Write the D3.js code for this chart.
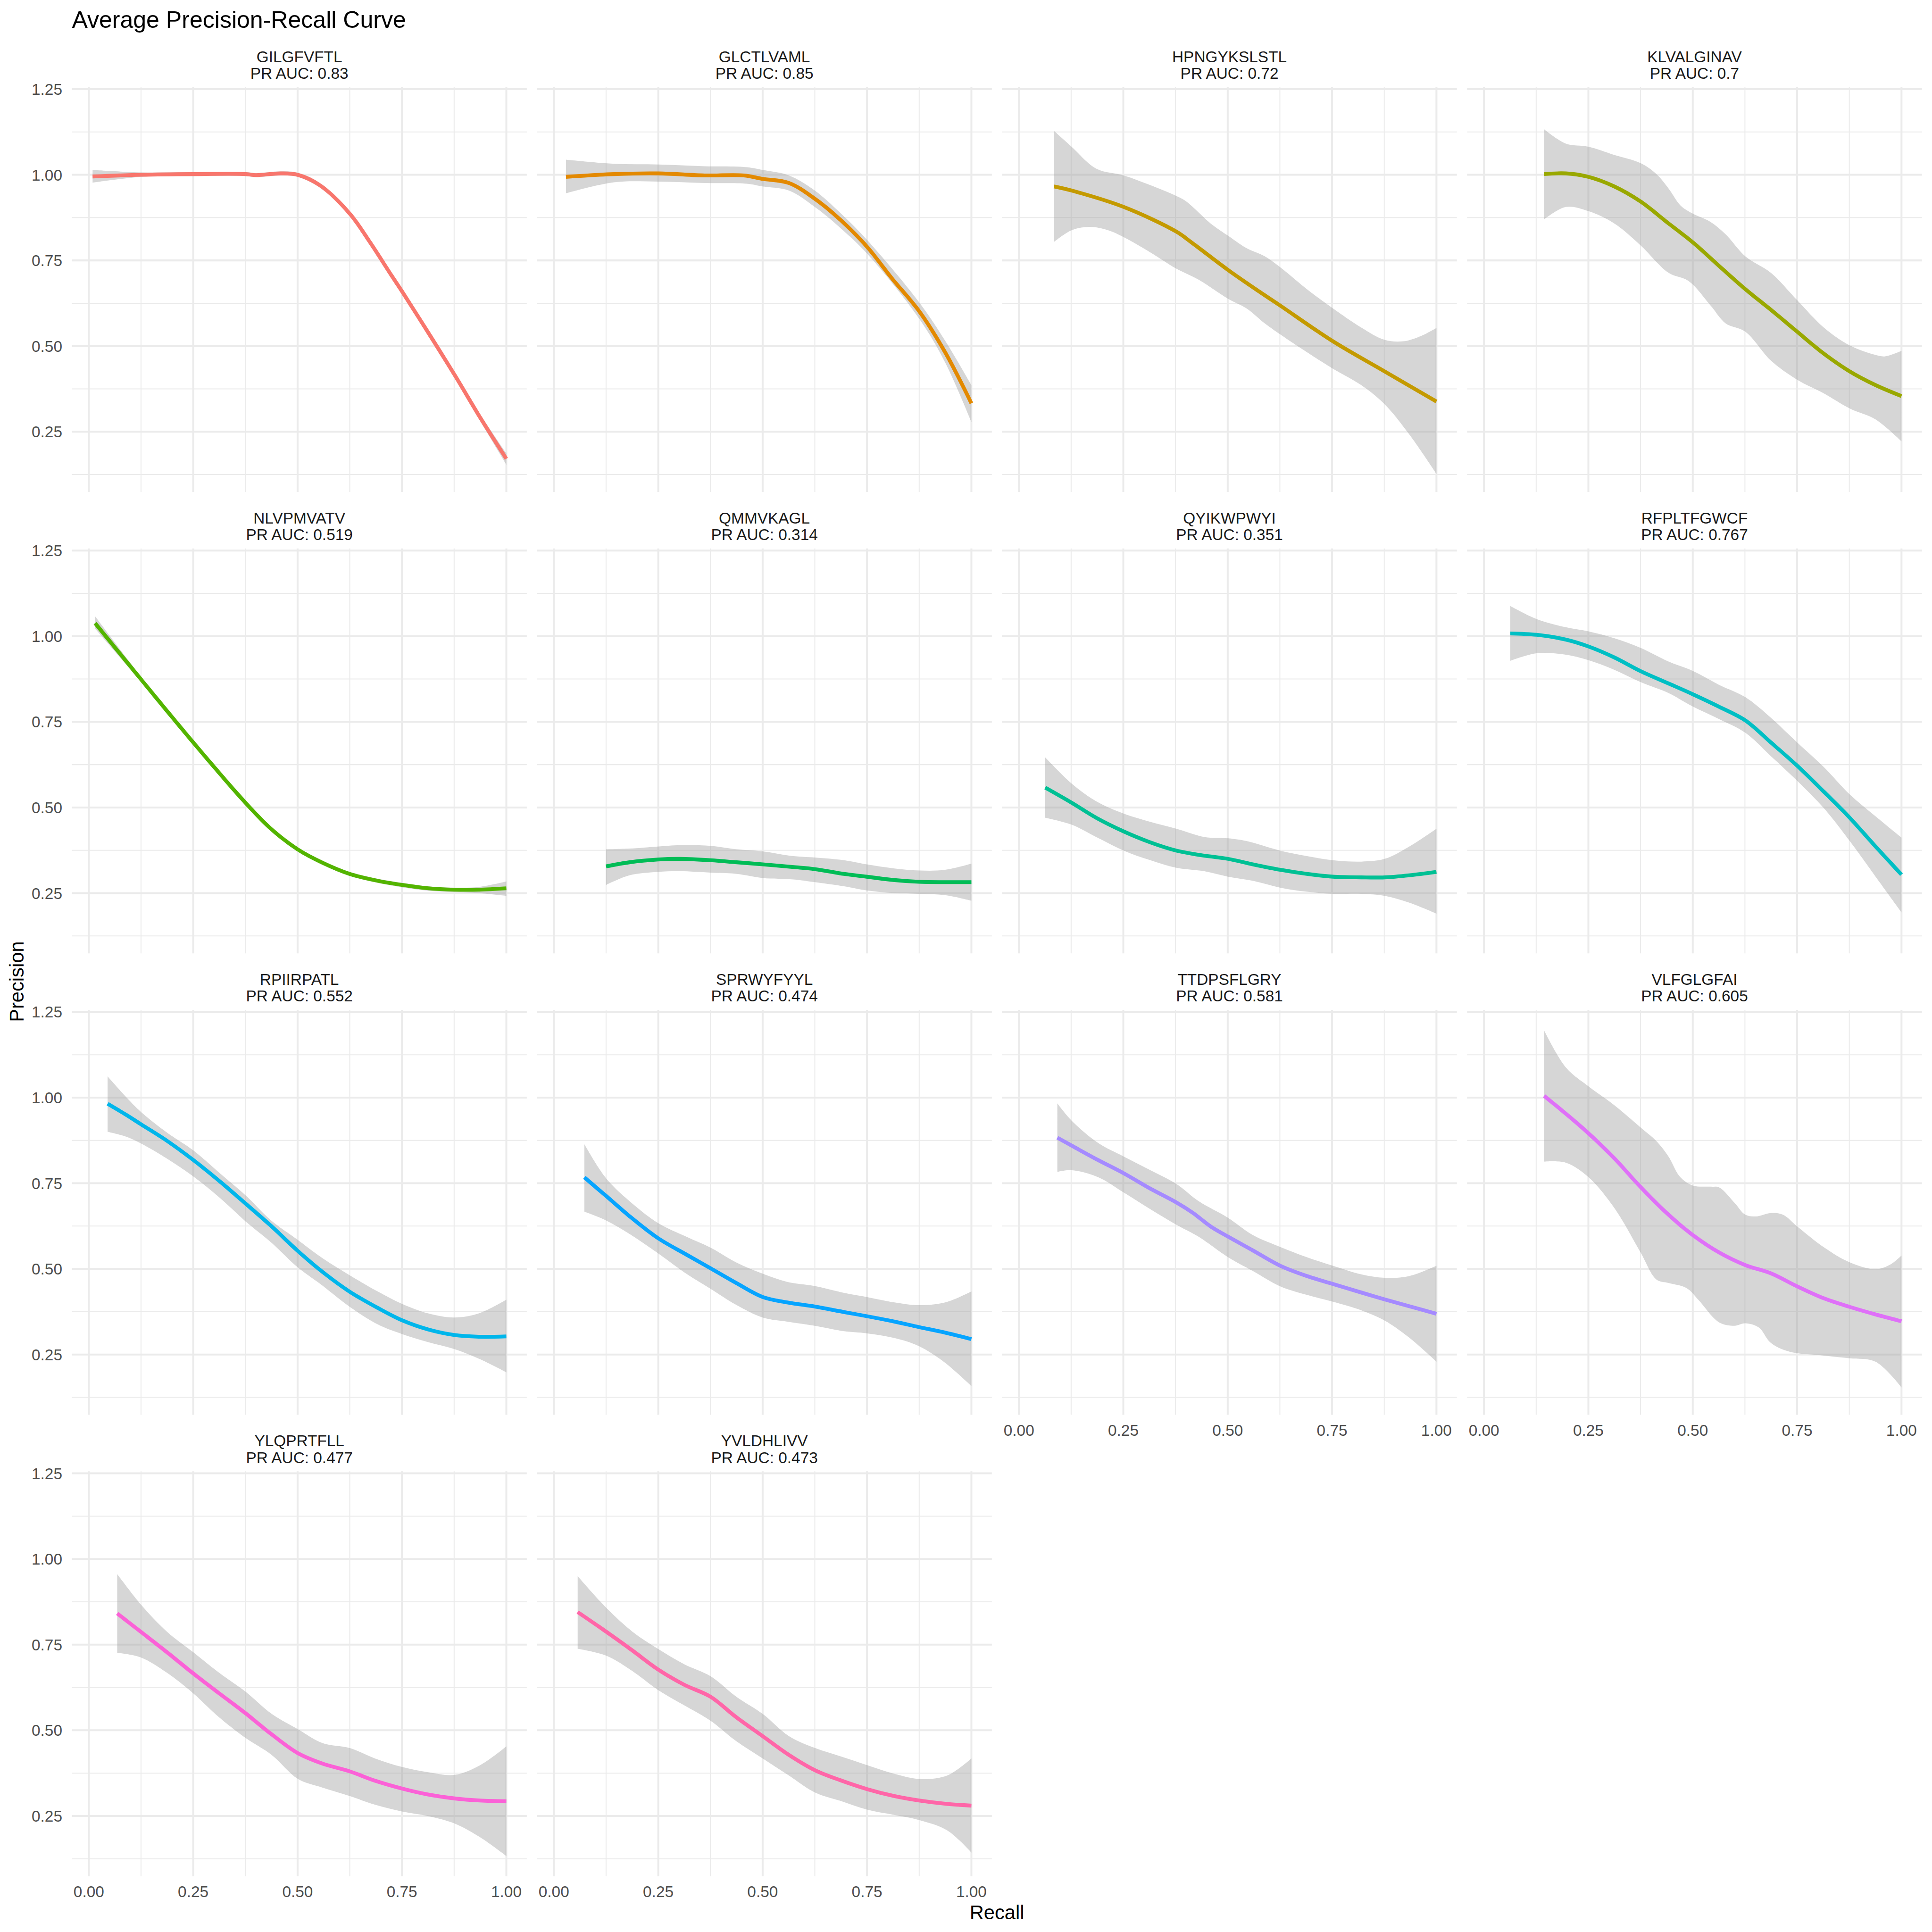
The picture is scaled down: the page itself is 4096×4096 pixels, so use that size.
<!DOCTYPE html>
<html>
<head>
<meta charset="utf-8">
<script src="https://cdn.jsdelivr.net/npm/d3@7"></script>
<style>
  html, body { margin: 0; padding: 0; background: #ffffff; }
  text { font-family: "Liberation Sans", Arial, Helvetica, sans-serif; }
</style>
</head>
<body>
<script>
// ---------------- DATA ----------------
const chartTitle = "Average Precision-Recall Curve";
const xAxisTitle = "Recall";
const yAxisTitle = "Precision";

const peptides = ["GILGFVFTL","GLCTLVAML","HPNGYKSLSTL","KLVALGINAV","NLVPMVATV","QMMVKAGL","QYIKWPWYI",
                  "RFPLTFGWCF","RPIIRPATL","SPRWYFYYL","TTDPSFLGRY","VLFGLGFAI","YLQPRTFLL","YVLDHLIVV"];
const prAuc = ["0.83","0.85","0.72","0.7","0.519","0.314","0.351","0.767","0.552","0.474","0.581","0.605","0.477","0.473"];
const palette = ["#F8766D","#E38900","#C49A00","#99A800","#53B400","#00BC56","#00C094",
                 "#00BFC4","#00B6EB","#06A4FF","#A58AFF","#DF70F8","#FB61D7","#FF66A8"];

const xMajorTicks = [0, 0.25, 0.5, 0.75, 1];
const xMinorTicks = [0.125, 0.375, 0.625, 0.875];
const yMajorTicks = [0.25, 0.5, 0.75, 1, 1.25];
const yMinorTicks = [0.125, 0.375, 0.625, 0.875, 1.125];

// smoothed precision (recall, precision) per peptide
const fitCurves = [
  [[0.009,0.995],[0.126,1.0],[0.25,1.002],[0.376,1.002],[0.4,0.999],[0.46,1.004],[0.5,1.0],[0.555,0.968],[0.626,0.885],[0.674,0.802],[0.725,0.706],[0.75,0.66],[0.81,0.545],[0.876,0.416],[0.939,0.288],[1.0,0.171]],
  [[0.029,0.994],[0.144,1.002],[0.25,1.004],[0.361,0.998],[0.455,0.998],[0.5,0.988],[0.563,0.976],[0.625,0.93],[0.685,0.87],[0.75,0.79],[0.808,0.70],[0.876,0.60],[0.938,0.48],[1.0,0.333]],
  [[0.084,0.966],[0.126,0.954],[0.251,0.906],[0.377,0.834],[0.416,0.80],[0.501,0.722],[0.589,0.648],[0.626,0.618],[0.752,0.514],[0.876,0.426],[1.0,0.338]],
  [[0.144,1.002],[0.196,1.004],[0.25,0.994],[0.312,0.966],[0.375,0.922],[0.442,0.858],[0.501,0.802],[0.563,0.734],[0.626,0.666],[0.687,0.606],[0.75,0.542],[0.814,0.478],[0.876,0.426],[0.938,0.386],[1.0,0.354]],
  [[0.015,1.038],[0.125,0.874],[0.25,0.69],[0.375,0.514],[0.436,0.438],[0.5,0.378],[0.561,0.338],[0.625,0.306],[0.692,0.286],[0.75,0.274],[0.813,0.264],[0.875,0.26],[0.934,0.26],[1.0,0.264]],
  [[0.125,0.328],[0.181,0.34],[0.249,0.348],[0.302,0.35],[0.375,0.346],[0.438,0.34],[0.5,0.334],[0.574,0.326],[0.625,0.32],[0.695,0.306],[0.749,0.298],[0.816,0.288],[0.875,0.283],[0.937,0.282],[1.0,0.282]],
  [[0.063,0.558],[0.126,0.514],[0.185,0.47],[0.251,0.43],[0.315,0.398],[0.377,0.374],[0.43,0.362],[0.501,0.35],[0.56,0.334],[0.626,0.318],[0.69,0.306],[0.752,0.298],[0.82,0.296],[0.876,0.296],[0.935,0.302],[1.0,0.312]],
  [[0.063,1.008],[0.126,1.004],[0.196,0.99],[0.25,0.97],[0.312,0.938],[0.375,0.898],[0.442,0.862],[0.501,0.83],[0.563,0.794],[0.626,0.754],[0.687,0.69],[0.75,0.622],[0.814,0.546],[0.876,0.47],[0.938,0.386],[1.0,0.304]],
  [[0.045,0.982],[0.089,0.95],[0.125,0.922],[0.187,0.874],[0.25,0.818],[0.315,0.754],[0.376,0.69],[0.436,0.626],[0.499,0.554],[0.561,0.49],[0.624,0.434],[0.692,0.386],[0.75,0.35],[0.813,0.323],[0.875,0.307],[0.934,0.302],[1.0,0.303]],
  [[0.073,0.767],[0.124,0.714],[0.181,0.654],[0.249,0.59],[0.317,0.542],[0.375,0.502],[0.438,0.458],[0.5,0.418],[0.559,0.402],[0.625,0.39],[0.695,0.374],[0.749,0.362],[0.816,0.346],[0.875,0.33],[0.937,0.314],[1.0,0.295]],
  [[0.092,0.883],[0.126,0.86],[0.189,0.818],[0.251,0.779],[0.315,0.734],[0.377,0.694],[0.416,0.664],[0.459,0.624],[0.501,0.594],[0.56,0.554],[0.626,0.509],[0.69,0.479],[0.752,0.456],[0.82,0.431],[0.876,0.411],[0.935,0.391],[1.0,0.369]],
  [[0.144,1.005],[0.196,0.953],[0.25,0.896],[0.312,0.823],[0.375,0.739],[0.442,0.658],[0.501,0.598],[0.563,0.548],[0.626,0.511],[0.687,0.487],[0.75,0.449],[0.814,0.414],[0.876,0.389],[0.938,0.367],[1.0,0.347]],
  [[0.068,0.841],[0.124,0.788],[0.187,0.728],[0.25,0.666],[0.312,0.608],[0.375,0.55],[0.438,0.488],[0.501,0.433],[0.559,0.403],[0.625,0.38],[0.685,0.353],[0.75,0.33],[0.811,0.313],[0.876,0.301],[0.937,0.295],[1.0,0.293]],
  [[0.057,0.845],[0.125,0.788],[0.188,0.733],[0.249,0.678],[0.312,0.633],[0.375,0.598],[0.437,0.538],[0.5,0.483],[0.563,0.428],[0.626,0.383],[0.689,0.353],[0.751,0.328],[0.815,0.308],[0.875,0.295],[0.942,0.285],[1.0,0.28]]
];

// upper edge of the confidence band
const upperBands = [
  [[0.009,1.014],[0.126,1.007],[0.25,1.008],[0.376,1.008],[0.4,1.005],[0.46,1.01],[0.5,1.006],[0.555,0.975],[0.626,0.892],[0.674,0.809],[0.725,0.713],[0.75,0.667],[0.81,0.552],[0.876,0.424],[0.939,0.298],[1.0,0.187]],
  [[0.029,1.044],[0.144,1.032],[0.25,1.03],[0.361,1.025],[0.462,1.022],[0.5,1.014],[0.563,0.998],[0.625,0.954],[0.685,0.89],[0.75,0.81],[0.876,0.626],[0.938,0.514],[1.0,0.386]],
  [[0.084,1.128],[0.126,1.082],[0.185,1.018],[0.251,0.998],[0.314,0.97],[0.377,0.938],[0.401,0.922],[0.459,0.858],[0.501,0.822],[0.545,0.786],[0.589,0.762],[0.626,0.73],[0.69,0.666],[0.752,0.61],[0.82,0.554],[0.876,0.518],[0.921,0.514],[0.964,0.53],[1.0,0.553]],
  [[0.144,1.133],[0.196,1.091],[0.25,1.082],[0.312,1.058],[0.375,1.034],[0.413,1.002],[0.442,0.96],[0.471,0.91],[0.501,0.886],[0.543,0.862],[0.579,0.826],[0.626,0.762],[0.687,0.714],[0.75,0.634],[0.814,0.554],[0.876,0.502],[0.938,0.474],[0.961,0.47],[1.0,0.486]],
  [[0.015,1.058],[0.125,0.882],[0.25,0.696],[0.375,0.52],[0.436,0.444],[0.5,0.384],[0.561,0.344],[0.625,0.312],[0.692,0.292],[0.75,0.28],[0.813,0.27],[0.875,0.266],[0.934,0.268],[1.0,0.284]],
  [[0.125,0.378],[0.181,0.38],[0.249,0.386],[0.302,0.39],[0.375,0.388],[0.438,0.378],[0.5,0.372],[0.574,0.358],[0.625,0.354],[0.695,0.346],[0.749,0.334],[0.816,0.322],[0.875,0.316],[0.937,0.318],[1.0,0.336]],
  [[0.063,0.646],[0.126,0.57],[0.185,0.518],[0.251,0.482],[0.315,0.458],[0.377,0.438],[0.444,0.414],[0.501,0.41],[0.545,0.402],[0.626,0.374],[0.69,0.358],[0.752,0.346],[0.82,0.342],[0.876,0.35],[0.935,0.386],[1.0,0.438]],
  [[0.063,1.088],[0.126,1.05],[0.196,1.026],[0.25,1.014],[0.312,0.994],[0.375,0.966],[0.442,0.926],[0.501,0.898],[0.563,0.858],[0.626,0.822],[0.687,0.762],[0.75,0.69],[0.814,0.618],[0.876,0.538],[0.938,0.474],[1.0,0.412]],
  [[0.045,1.062],[0.089,1.002],[0.125,0.958],[0.187,0.898],[0.25,0.846],[0.315,0.778],[0.376,0.714],[0.436,0.642],[0.499,0.586],[0.561,0.53],[0.624,0.482],[0.692,0.434],[0.75,0.398],[0.813,0.37],[0.875,0.358],[0.934,0.37],[1.0,0.41]],
  [[0.073,0.864],[0.124,0.766],[0.181,0.698],[0.249,0.634],[0.317,0.594],[0.375,0.562],[0.438,0.518],[0.5,0.486],[0.559,0.462],[0.625,0.45],[0.695,0.43],[0.749,0.418],[0.816,0.402],[0.875,0.394],[0.937,0.402],[1.0,0.434]],
  [[0.092,0.983],[0.126,0.933],[0.189,0.868],[0.251,0.828],[0.315,0.788],[0.377,0.748],[0.43,0.698],[0.501,0.649],[0.56,0.599],[0.626,0.564],[0.69,0.534],[0.752,0.509],[0.82,0.484],[0.876,0.474],[0.935,0.479],[1.0,0.509]],
  [[0.144,1.196],[0.196,1.088],[0.25,1.033],[0.312,0.978],[0.375,0.913],[0.413,0.873],[0.442,0.828],[0.47,0.768],[0.501,0.743],[0.543,0.74],[0.563,0.738],[0.6,0.693],[0.626,0.658],[0.651,0.653],[0.687,0.663],[0.716,0.658],[0.75,0.624],[0.814,0.563],[0.876,0.519],[0.938,0.499],[0.975,0.514],[1.0,0.539]],
  [[0.068,0.956],[0.124,0.868],[0.187,0.788],[0.25,0.728],[0.312,0.668],[0.375,0.613],[0.438,0.548],[0.501,0.503],[0.559,0.463],[0.625,0.448],[0.685,0.418],[0.75,0.393],[0.811,0.378],[0.876,0.37],[0.937,0.398],[1.0,0.453]],
  [[0.057,0.95],[0.125,0.858],[0.188,0.788],[0.249,0.738],[0.312,0.693],[0.375,0.658],[0.437,0.598],[0.5,0.548],[0.563,0.483],[0.626,0.448],[0.689,0.423],[0.751,0.398],[0.815,0.373],[0.875,0.358],[0.942,0.368],[1.0,0.418]]
];

// lower edge of the confidence band
const lowerBands = [
  [[0.009,0.977],[0.126,0.994],[0.25,0.996],[0.376,0.996],[0.4,0.993],[0.46,0.998],[0.5,0.994],[0.555,0.961],[0.626,0.878],[0.674,0.795],[0.725,0.699],[0.75,0.653],[0.81,0.538],[0.876,0.408],[0.939,0.278],[1.0,0.154]],
  [[0.029,0.946],[0.144,0.978],[0.25,0.98],[0.361,0.976],[0.462,0.974],[0.5,0.966],[0.563,0.954],[0.625,0.906],[0.685,0.846],[0.75,0.77],[0.876,0.578],[0.938,0.45],[1.0,0.278]],
  [[0.084,0.804],[0.126,0.838],[0.17,0.848],[0.214,0.838],[0.251,0.818],[0.314,0.774],[0.377,0.726],[0.43,0.694],[0.501,0.638],[0.545,0.61],[0.589,0.566],[0.626,0.534],[0.69,0.482],[0.752,0.434],[0.82,0.386],[0.876,0.33],[0.935,0.242],[1.0,0.127]],
  [[0.144,0.87],[0.196,0.906],[0.25,0.894],[0.312,0.858],[0.375,0.794],[0.442,0.714],[0.49,0.69],[0.543,0.618],[0.579,0.566],[0.626,0.542],[0.687,0.458],[0.75,0.402],[0.814,0.362],[0.876,0.318],[0.938,0.286],[1.0,0.222]],
  [[0.015,1.022],[0.125,0.866],[0.25,0.684],[0.375,0.508],[0.436,0.432],[0.5,0.372],[0.561,0.332],[0.625,0.3],[0.692,0.28],[0.75,0.267],[0.813,0.257],[0.875,0.253],[0.934,0.25],[1.0,0.242]],
  [[0.125,0.274],[0.181,0.302],[0.249,0.312],[0.302,0.314],[0.375,0.31],[0.438,0.306],[0.5,0.294],[0.574,0.29],[0.625,0.282],[0.695,0.27],[0.749,0.258],[0.816,0.25],[0.875,0.248],[0.937,0.244],[1.0,0.228]],
  [[0.063,0.47],[0.126,0.45],[0.185,0.414],[0.251,0.374],[0.315,0.346],[0.377,0.324],[0.444,0.314],[0.501,0.298],[0.56,0.286],[0.626,0.266],[0.69,0.254],[0.752,0.248],[0.82,0.248],[0.876,0.242],[0.935,0.222],[1.0,0.19]],
  [[0.063,0.928],[0.126,0.95],[0.196,0.946],[0.25,0.93],[0.312,0.902],[0.375,0.866],[0.442,0.834],[0.501,0.794],[0.563,0.758],[0.626,0.718],[0.687,0.65],[0.75,0.578],[0.814,0.498],[0.876,0.402],[0.938,0.298],[1.0,0.194]],
  [[0.045,0.9],[0.089,0.886],[0.125,0.866],[0.187,0.822],[0.25,0.77],[0.315,0.706],[0.376,0.638],[0.436,0.578],[0.499,0.506],[0.561,0.45],[0.624,0.39],[0.692,0.338],[0.75,0.31],[0.813,0.286],[0.875,0.266],[0.934,0.238],[1.0,0.198]],
  [[0.073,0.667],[0.124,0.642],[0.181,0.602],[0.249,0.546],[0.317,0.486],[0.375,0.442],[0.438,0.394],[0.5,0.358],[0.559,0.346],[0.625,0.334],[0.695,0.318],[0.749,0.312],[0.816,0.298],[0.875,0.274],[0.937,0.226],[1.0,0.158]],
  [[0.092,0.783],[0.126,0.788],[0.189,0.768],[0.251,0.723],[0.315,0.674],[0.377,0.629],[0.43,0.594],[0.501,0.534],[0.56,0.494],[0.626,0.449],[0.69,0.424],[0.752,0.404],[0.82,0.379],[0.876,0.349],[0.935,0.299],[1.0,0.229]],
  [[0.144,0.813],[0.196,0.81],[0.25,0.768],[0.312,0.678],[0.375,0.548],[0.413,0.469],[0.442,0.459],[0.485,0.444],[0.514,0.409],[0.563,0.344],[0.6,0.334],[0.626,0.341],[0.658,0.329],[0.687,0.284],[0.73,0.259],[0.814,0.247],[0.876,0.239],[0.938,0.229],[1.0,0.154]],
  [[0.068,0.726],[0.124,0.713],[0.187,0.668],[0.25,0.608],[0.312,0.538],[0.375,0.478],[0.438,0.428],[0.501,0.358],[0.559,0.333],[0.625,0.308],[0.685,0.283],[0.75,0.263],[0.811,0.25],[0.876,0.228],[0.937,0.188],[1.0,0.133]],
  [[0.057,0.738],[0.125,0.718],[0.188,0.673],[0.249,0.618],[0.312,0.573],[0.375,0.528],[0.437,0.468],[0.5,0.418],[0.563,0.368],[0.626,0.318],[0.689,0.293],[0.751,0.268],[0.815,0.253],[0.875,0.238],[0.942,0.208],[1.0,0.143]]
];

// ---------------- LAYOUT (reference pixel units, scaled by viewBox) ----------------
const REF = 4500, OUT = 4096;
const nCol = 4;
const panelW = 1059.5, panelH = 943.2;
const colStep = 1083.2, rowStep = 1074.7;
const left0 = 167.5, top0 = 202.8;

const svg = d3.select("body").append("svg")
  .attr("width", OUT).attr("height", OUT)
  .attr("viewBox", `0 0 ${REF} ${REF}`);

svg.append("rect").attr("width", REF).attr("height", REF).attr("fill", "#ffffff");

const x = d3.scaleLinear().domain([-0.0405, 1.049]).range([0, panelW]);
const y = d3.scaleLinear().domain([0.074, 1.256]).range([panelH, 0]);

const lineGen = d3.line().x(d => x(d[0])).y(d => y(d[1])).curve(d3.curveCatmullRom.alpha(0.5));

const nPanels = peptides.length;
const nRows = Math.ceil(nPanels / nCol);

peptides.forEach((pep, i) => {
  const r = Math.floor(i / nCol), c = i % nCol;
  const g = svg.append("g").attr("transform", `translate(${left0 + c * colStep},${top0 + r * rowStep})`);

  // grid
  g.selectAll(".gxm").data(xMinorTicks).join("line")
    .attr("x1", d => x(d)).attr("x2", d => x(d)).attr("y1", 0).attr("y2", panelH)
    .attr("stroke", "#EBEBEB").attr("stroke-width", 2.22);
  g.selectAll(".gym").data(yMinorTicks).join("line")
    .attr("y1", d => y(d)).attr("y2", d => y(d)).attr("x1", 0).attr("x2", panelW)
    .attr("stroke", "#EBEBEB").attr("stroke-width", 2.22);
  g.selectAll(".gxM").data(xMajorTicks).join("line")
    .attr("x1", d => x(d)).attr("x2", d => x(d)).attr("y1", 0).attr("y2", panelH)
    .attr("stroke", "#EBEBEB").attr("stroke-width", 4.44);
  g.selectAll(".gyM").data(yMajorTicks).join("line")
    .attr("y1", d => y(d)).attr("y2", d => y(d)).attr("x1", 0).attr("x2", panelW)
    .attr("stroke", "#EBEBEB").attr("stroke-width", 4.44);

  // confidence ribbon
  const up = lineGen(upperBands[i]);
  const lo = lineGen(lowerBands[i].slice().reverse());
  g.append("path")
    .attr("d", up + "L" + lo.slice(1) + "Z")
    .attr("fill", "#999999").attr("fill-opacity", 0.4).attr("stroke", "none");

  // smoothed line
  g.append("path")
    .attr("d", lineGen(fitCurves[i]))
    .attr("fill", "none").attr("stroke", palette[i]).attr("stroke-width", 8.9);

  // strip label
  g.append("text").attr("x", panelW / 2).attr("y", -58.3)
    .attr("text-anchor", "middle").attr("font-size", 36.7).attr("fill", "#1A1A1A").text(pep);
  g.append("text").attr("x", panelW / 2).attr("y", -19.4)
    .attr("text-anchor", "middle").attr("font-size", 36.7).attr("fill", "#1A1A1A").text("PR AUC: " + prAuc[i]);

  // y axis labels (first column)
  if (c === 0) {
    g.selectAll(".yl").data(yMajorTicks).join("text")
      .attr("x", -22.5).attr("y", d => y(d)).attr("dy", "0.36em")
      .attr("text-anchor", "end").attr("font-size", 36.7).attr("fill", "#4D4D4D")
      .text(d => d3.format(".2f")(d));
  }
  // x axis labels (no panel below)
  if (i + nCol >= nPanels) {
    g.selectAll(".xl").data(xMajorTicks).join("text")
      .attr("x", d => x(d)).attr("y", panelH + 49)
      .attr("text-anchor", "middle").attr("font-size", 36.7).attr("fill", "#4D4D4D")
      .text(d => d3.format(".2f")(d));
  }
});

// titles
svg.append("text").attr("x", left0).attr("y", 64.6)
  .attr("font-size", 55).attr("fill", "#000000").text(chartTitle);

const plotLeft = left0, plotRight = left0 + (nCol - 1) * colStep + panelW;
svg.append("text").attr("x", (plotLeft + plotRight) / 2).attr("y", 4470)
  .attr("text-anchor", "middle").attr("font-size", 45.8).attr("fill", "#000000").text(xAxisTitle);

const plotTop = top0, plotBottom = top0 + (nRows - 1) * rowStep + panelH;
svg.append("text")
  .attr("transform", `translate(55,${(plotTop + plotBottom) / 2}) rotate(-90)`)
  .attr("text-anchor", "middle").attr("font-size", 45.8).attr("fill", "#000000").text(yAxisTitle);
</script>
</body>
</html>
